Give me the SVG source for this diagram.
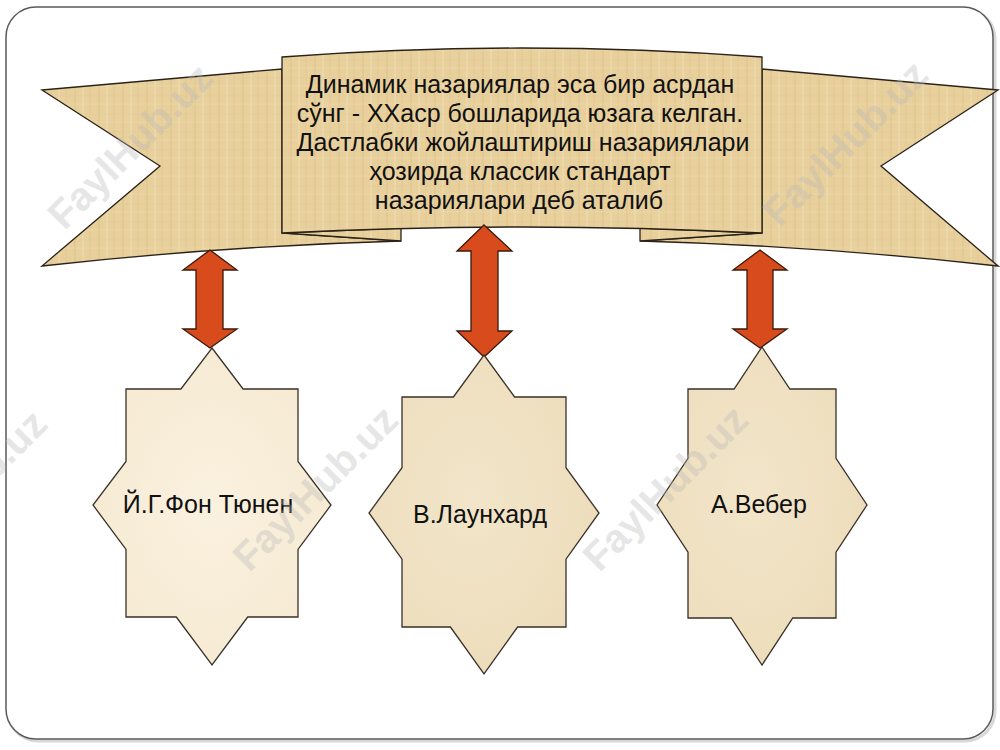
<svg xmlns="http://www.w3.org/2000/svg" width="1000" height="750" viewBox="0 0 1000 750">
  <defs>
    <pattern id="papyrus" width="24" height="18" patternUnits="userSpaceOnUse">
      <rect width="24" height="18" fill="#e8d09c"/>
      <line x1="3" y1="0" x2="3" y2="18" stroke="#d6b97f" stroke-width="1.2" opacity="0.45"/>
      <line x1="11" y1="0" x2="11" y2="18" stroke="#f2e1b8" stroke-width="1.5" opacity="0.6"/>
      <line x1="18" y1="0" x2="18" y2="18" stroke="#d9be88" stroke-width="0.8" opacity="0.5"/>
      <line x1="0" y1="6" x2="24" y2="6" stroke="#dcc18b" stroke-width="0.8" opacity="0.4"/>
      <line x1="0" y1="14" x2="24" y2="14" stroke="#f0dcb0" stroke-width="1" opacity="0.5"/>
    </pattern>
    <radialGradient id="parchLight" cx="50%" cy="50%" r="70%">
      <stop offset="0" stop-color="#faf1df"/>
      <stop offset="1" stop-color="#f5e8cf"/>
    </radialGradient>
    <radialGradient id="parch" cx="45%" cy="45%" r="75%">
      <stop offset="0" stop-color="#f2e5c9"/>
      <stop offset="0.6" stop-color="#eedfbf"/>
      <stop offset="1" stop-color="#e9d7b2"/>
    </radialGradient>
    <style>
      .ribbon { fill: url(#papyrus); stroke: #2a2218; stroke-width: 1.3; stroke-linejoin: miter; }
      .arrow { fill: #d84b1c; stroke: #3a1a0c; stroke-width: 1.3; stroke-linejoin: miter; }
      .star { stroke: #3a3128; stroke-width: 1.3; stroke-linejoin: miter; }
      .lbl { font-family: "Liberation Sans", Arial, sans-serif; font-size: 25px; fill: #111; text-anchor: middle; }
      .wm { font-family: "Liberation Sans", Arial, sans-serif; font-size: 40px; font-weight: bold; fill: #b9b9b9; opacity: 0.35; text-anchor: middle; }
    </style>
  </defs>

  <rect width="1000" height="750" fill="#ffffff"/>
  <!-- frame -->
  <rect x="8" y="9" width="987" height="732" rx="30" ry="30" fill="none" stroke="#d8d8d8" stroke-width="3"/>
  <rect x="6" y="7" width="987" height="732" rx="30" ry="30" fill="#ffffff" stroke="#5a5a5a" stroke-width="1.5"/>

  <!-- banner -->
  <g id="banner">
    <path class="ribbon" d="M42,90 L282,69 L282,233 L401,241 Q222,246 42,266 L160,166 Z"/>
    <path class="ribbon" d="M998,90 L762,69 L762,233 L640,241 Q820,246 998,266 L881,166 Z"/>
    <path class="ribbon" d="M282,233 L401,241 L401,228 Z"/>
    <path class="ribbon" d="M762,233 L640,241 L640,228 Z"/>
    <path class="ribbon" d="M282,57 Q521,39 762,57 L762,233 Q521,221 282,233 Z"/>
    <text class="lbl" x="520" y="93">Динамик назариялар эса бир асрдан</text>
    <text class="lbl" x="520" y="122">сўнг - XXаср бошларида юзага келган.</text>
    <text class="lbl" x="523" y="151">Дастлабки жойлаштириш назариялари</text>
    <text class="lbl" x="520" y="180">ҳозирда классик стандарт</text>
    <text class="lbl" x="519" y="209">назариялари деб аталиб</text>
  </g>

  <!-- connectors -->
  <g id="connectors">
    <polygon class="arrow" points="210,250 237,270 223,270 223,329 237,329 210,348 183,329 196,329 196,270 183,270"/>
    <polygon class="arrow" points="484,225 512,251 498,251 498,331 512,331 484,357 457,331 471,331 471,251 457,251"/>
    <polygon class="arrow" points="760,250 787,270 773,270 773,329 787,329 760,348 733,329 747,329 747,270 733,270"/>
  </g>

  <!-- stars -->
  <g id="star-thunen">
    <polygon class="star" fill="url(#parchLight)" points="212,348 243.1,389 298,389 298,461.5 331,505 298,549.4 298,617 247.7,617 212,665 176.3,617 126,617 126,549.4 93,505 126,461.5 126,389 180.9,389"/>
    <text class="lbl" x="208" y="513">Й.Г.Фон Тюнен</text>
  </g>
  <g id="star-launhardt">
    <polygon class="star" fill="url(#parch)" points="484,355 514.6,397 566,397 566,467.7 599,513 566,559.2 566,627 517.6,627 484,674 450.4,627 402,627 402,559.2 369,513 402,467.7 402,397 453.4,397"/>
    <text class="lbl" x="480" y="523">В.Лаунхард</text>
  </g>
  <g id="star-weber">
    <polygon class="star" fill="url(#parch)" points="762,347 789.9,389 836,389 836,458.4 867,505 836,552.2 836,618 792.8,618 762,665 731.2,618 688,618 688,552.2 657,505 688,458.4 688,389 734.1,389"/>
    <text class="lbl" x="759" y="513">А.Вебер</text>
  </g>

  <!-- watermarks -->
  <g id="watermarks">
    <text class="wm" transform="translate(130,146) rotate(-45)" dy="14">FaylHub.uz</text>
    <text class="wm" transform="translate(845,143) rotate(-45)" dy="14">FaylHub.uz</text>
    <text class="wm" transform="translate(-36,492) rotate(-45)" dy="14">FaylHub.uz</text>
    <text class="wm" transform="translate(315,488) rotate(-45)" dy="14">FaylHub.uz</text>
    <text class="wm" transform="translate(665,488) rotate(-45)" dy="14">FaylHub.uz</text>
  </g>
</svg>
